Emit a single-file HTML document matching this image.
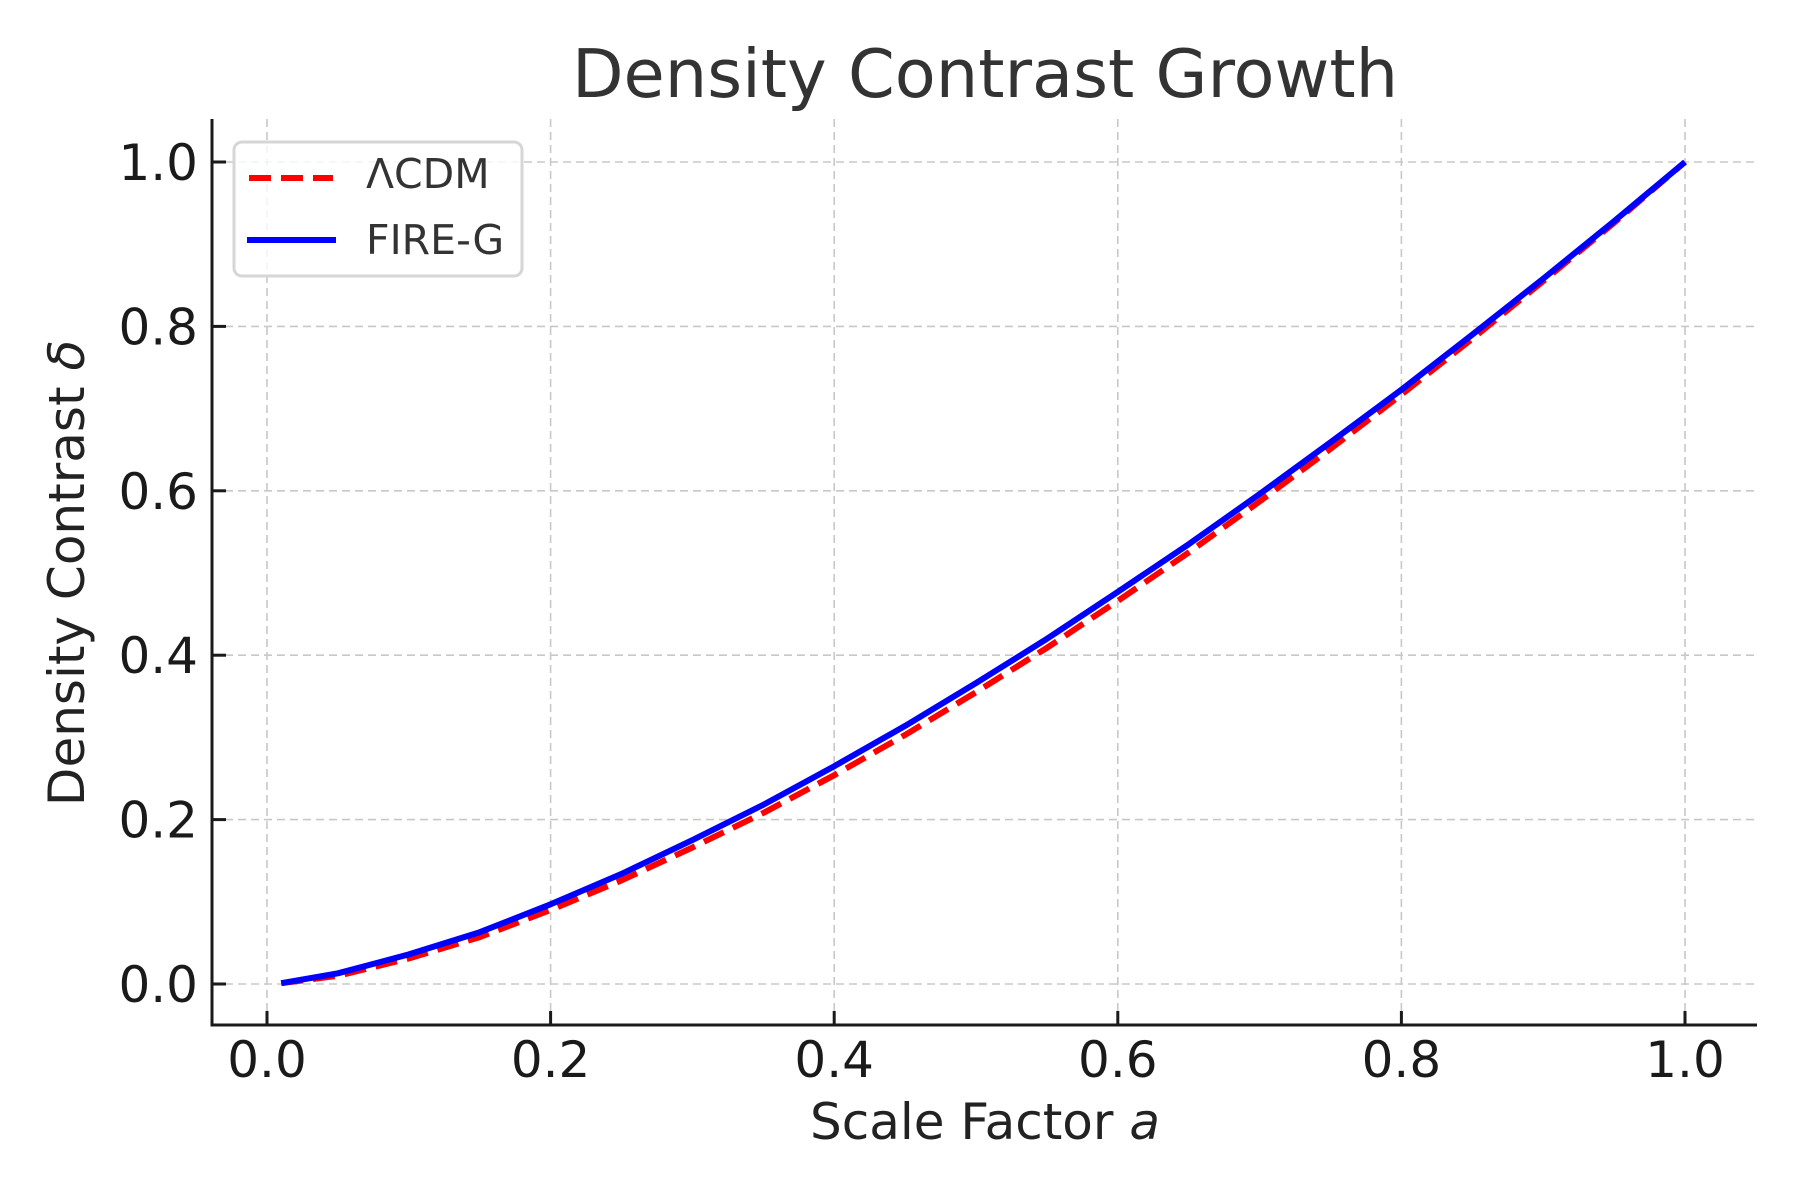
<!DOCTYPE html>
<html><head><meta charset="utf-8"><style>
body{margin:0;background:#fff}
svg{display:block;font-family:"DejaVu Sans","Liberation Sans",sans-serif}
</style></head><body>
<svg id="chart" width="1800" height="1200" viewBox="0 0 1800 1200">
<g id="grid"></g>
<g id="series"></g>
<g id="axes"></g>
<text x="985" y="97" text-anchor="middle" font-size="67" fill="#333">Density Contrast Growth</text>
<text x="985" y="1139" text-anchor="middle" font-size="50" fill="#222">Scale Factor <tspan font-style="italic">a</tspan></text>
<text transform="translate(84,573) rotate(-90)" text-anchor="middle" font-size="50" fill="#222">Density Contrast <tspan font-style="italic">δ</tspan></text>
<g>
<rect x="234" y="142" width="288" height="134" rx="8" fill="#fff" fill-opacity="0.8" stroke="#d6d6d6" stroke-width="3"/>
<line x1="249" y1="178" x2="333" y2="178" stroke="#ff0000" stroke-width="6" stroke-dasharray="22,10"/>
<text x="366" y="188" font-size="41" fill="#333">ΛCDM</text>
<line x1="247" y1="240" x2="336" y2="240" stroke="#0000ff" stroke-width="6"/>
<text x="366" y="254" font-size="41" fill="#333">FIRE-G</text>
</g>
</svg>
<script>
const aValues=[0.01,0.05,0.1,0.15,0.2,0.25,0.3,0.35,0.4,0.45,0.5,0.55,0.6,0.65,0.7,0.75,0.8,0.85,0.9,0.95,1.0];
const lcdmValues=[0.001,0.010,0.031,0.057,0.090,0.126,0.166,0.208,0.254,0.303,0.355,0.409,0.466,0.525,0.587,0.651,0.717,0.785,0.855,0.926,1.0];
const firegValues=[0.001,0.013,0.036,0.063,0.097,0.134,0.175,0.218,0.265,0.314,0.366,0.420,0.477,0.535,0.596,0.659,0.723,0.790,0.858,0.928,1.0];
const xTicks=[0,0.2,0.4,0.6,0.8,1.0];
const yTicks=[0,0.2,0.4,0.6,0.8,1.0];
const xTickLabels=["0.0","0.2","0.4","0.6","0.8","1.0"];
const yTickLabels=["0.0","0.2","0.4","0.6","0.8","1.0"];
const NS="http://www.w3.org/2000/svg";
const L=212,R=1757,T=119,B=1025;
function xs(v){return 267+v*(1685-267);}
function ys(v){return 984-v*(984-162);}
function mk(tag,attrs,parent){const e=document.createElementNS(NS,tag);for(const k in attrs)e.setAttribute(k,attrs[k]);parent.appendChild(e);return e;}
const grid=document.getElementById('grid'),axes=document.getElementById('axes'),series=document.getElementById('series');
xTicks.forEach((v,i)=>{
 const g=mk('line',{x1:xs(v),x2:xs(v),y1:T,y2:B,stroke:'#c8c8c8','stroke-width':1.6,'stroke-dasharray':'8,5'},grid);
 
 
 const t=mk('line',{x1:xs(v),x2:xs(v),y1:B,y2:B-14,stroke:'#1a1a1a','stroke-width':3},axes);
 
 
 const l=mk('text',{x:xs(v),y:1077,'text-anchor':'middle','font-size':50,fill:'#1a1a1a'},axes);
 l.textContent=xTickLabels[i];
 
 
});
yTicks.forEach((v,i)=>{
 const g=mk('line',{x1:L,x2:R,y1:ys(v),y2:ys(v),stroke:'#c8c8c8','stroke-width':1.6,'stroke-dasharray':'8,5'},grid);
 
 
 const t=mk('line',{x1:L,x2:L+14,y1:ys(v),y2:ys(v),stroke:'#1a1a1a','stroke-width':3},axes);
 
 
 const l=mk('text',{x:198,y:ys(v)+18,'text-anchor':'end','font-size':50,fill:'#1a1a1a'},axes);
 l.textContent=yTickLabels[i];
 
 
});
const sl=mk('line',{x1:L,x2:L,y1:T,y2:B+1.5,stroke:'#1a1a1a','stroke-width':3},axes);


const sb=mk('line',{x1:L-1.5,x2:R,y1:B,y2:B,stroke:'#1a1a1a','stroke-width':3},axes);


function path(vals){return vals.map((v,i)=>(i?'L':'M')+xs(aValues[i]).toFixed(1)+','+ys(v).toFixed(1)).join(' ');}
const p1=mk('path',{d:path(lcdmValues),fill:'none',stroke:'#ff0000','stroke-width':6,'stroke-dasharray':'22,10'},series);


const p2=mk('path',{d:path(firegValues),fill:'none',stroke:'#0000ff','stroke-width':6,'stroke-linejoin':'round'},series);


</script>
</body></html>
